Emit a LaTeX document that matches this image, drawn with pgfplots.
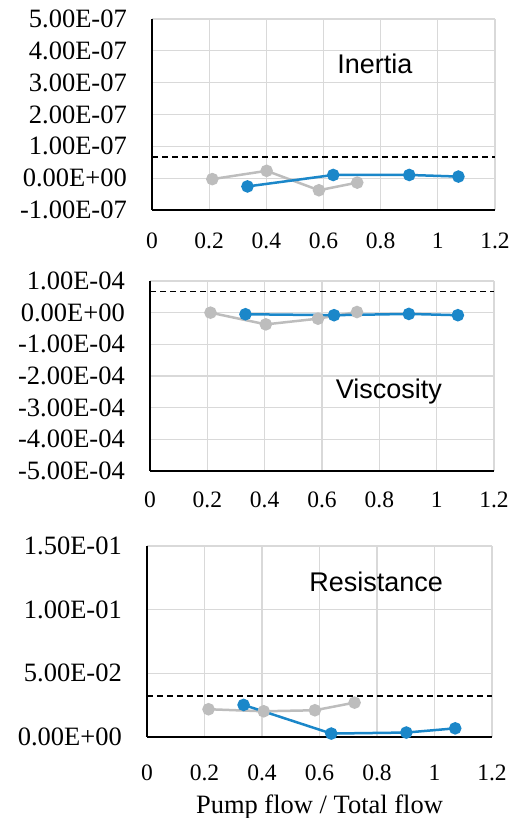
\documentclass[border=0pt]{standalone}
\usepackage{pgfplots}
\pgfplotsset{compat=1.18}
\usepackage{fontspec}
\setmainfont{Liberation Serif}
\newfontfamily\arial{Liberation Sans}
\definecolor{sblue}{HTML}{1B87C9}
\definecolor{sgrey}{HTML}{BDBDBD}
\definecolor{gridc}{HTML}{D9D9D9}
\pgfplotsset{
  panel/.style={
    scale only axis,
    clip=false,
    xmin=0, xmax=1.2,
    xtick={0,0.2,0.4,0.6,0.8,1,1.2},
    xticklabels={0,0.2,0.4,0.6,0.8,1,1.2},
    scaled y ticks=false,
    scaled x ticks=false,
    axis x line*=bottom,
    axis y line*=left,
    axis line style={-, black, line width=1.3pt},
    major tick length=0pt,
    grid=major,
    major grid style={gridc, line width=1.2pt},
    yticklabel style={font=\fontsize{26.5}{30}\selectfont, inner sep=0pt, anchor=east, xshift=-25pt},
  },
  grey/.style={sgrey, line width=2.5pt, mark=*, mark size=5pt, mark options={solid, fill=sgrey, draw=sgrey}},
  blue/.style={sblue, line width=2.5pt, mark=*, mark size=5pt, mark options={solid, fill=sblue, draw=sblue}},
  refl/.style={black, line width=1.3pt, dash pattern=on 6pt off 4pt},
}
\begin{document}
\begin{tikzpicture}
\useasboundingbox (0,0) rectangle (517pt,818pt);
% ---------- Inertia ----------
\begin{axis}[panel,
  at={(152pt,608pt)}, anchor=south west,
  width=343pt, height=191pt,
  ymin=-1e-7, ymax=5e-7,
  ytick={-1e-7,0,1e-7,2e-7,3e-7,4e-7,5e-7},
  yticklabels={-1.00E-07,0.00E+00,1.00E-07,2.00E-07,3.00E-07,4.00E-07,5.00E-07},
  xticklabel style={font=\fontsize{23.5}{28}\selectfont, inner sep=0pt, anchor=north, yshift=-23pt},
]
\addplot[refl] coordinates {(0,6.6e-8) (1.2,6.6e-8)};
\addplot[grey] coordinates {(0.211,-3e-9) (0.401,2.3e-8) (0.584,-3.8e-8) (0.718,-1.4e-8)};
\addplot[blue] coordinates {(0.334,-2.6e-8) (0.634,1.0e-8) (0.900,1.0e-8) (1.072,5e-9)};
\node[anchor=base, font=\arial\fontsize{27}{30}\selectfont] at (axis cs:0.78,3.30e-7) {Inertia};
\end{axis}
% ---------- Viscosity ----------
\begin{axis}[panel,
  at={(150pt,347pt)}, anchor=south west,
  width=344pt, height=190pt,
  ymin=-5e-4, ymax=1e-4,
  ytick={-5e-4,-4e-4,-3e-4,-2e-4,-1e-4,0,1e-4},
  yticklabels={-5.00E-04,-4.00E-04,-3.00E-04,-2.00E-04,-1.00E-04,0.00E+00,1.00E-04},
  xticklabel style={font=\fontsize{23.5}{28}\selectfont, inner sep=0pt, anchor=north, yshift=-21pt},
]
\addplot[refl] coordinates {(0,6.7e-5) (1.2,6.7e-5)};
\addplot[grey] coordinates {(0.211,0) (0.404,-3.7e-5) (0.586,-1.9e-5) (0.722,2e-6)};
\addplot[blue] coordinates {(0.333,-5e-6) (0.642,-8e-6) (0.903,-4e-6) (1.074,-8e-6)};
\node[anchor=base, font=\arial\fontsize{27}{30}\selectfont] at (axis cs:0.833,-2.72e-4) {Viscosity};
\end{axis}
% ---------- Resistance ----------
\begin{axis}[panel,
  at={(147pt,81pt)}, anchor=south west,
  width=345pt, height=191pt,
  ymin=0, ymax=0.15,
  ytick={0,0.05,0.1,0.15},
  yticklabels={0.00E+00,5.00E-02,1.00E-01,1.50E-01},
  xticklabel style={font=\fontsize{23.5}{28}\selectfont, inner sep=0pt, anchor=north, yshift=-28pt},
]
\addplot[refl] coordinates {(0,0.0322) (1.2,0.0322)};
\addplot[grey] coordinates {(0.214,0.0218) (0.406,0.0202) (0.584,0.021) (0.722,0.027)};
\addplot[blue] coordinates {(0.336,0.0252) (0.641,0.0027) (0.902,0.0035) (1.072,0.0068)};
\node[anchor=base, font=\arial\fontsize{27}{30}\selectfont] at (axis cs:0.797,0.114) {Resistance};
\node[anchor=base, font=\fontsize{26.5}{30}\selectfont] at (rel axis cs:0.5,-0.398) {Pump flow / Total flow};
\end{axis}
\end{tikzpicture}
\end{document}
